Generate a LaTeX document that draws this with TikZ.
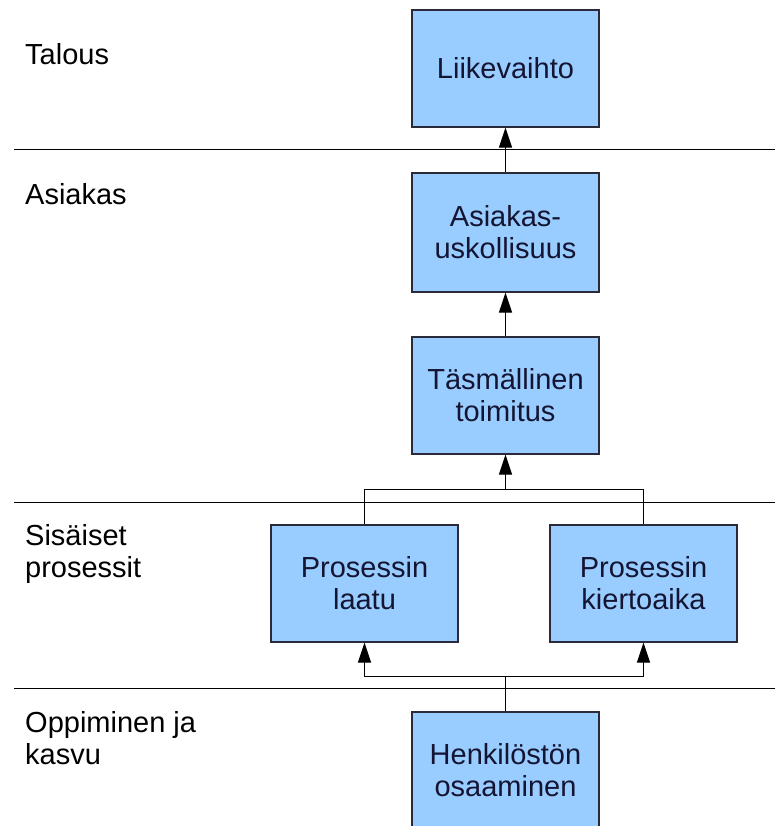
\documentclass[tikz,border=0pt]{standalone}
\usepackage{fontspec}
\setmainfont{Liberation Sans}
\usetikzlibrary{arrows.meta}
\definecolor{boxfill}{HTML}{99CCFF}
\definecolor{boxline}{HTML}{2A2A3A}
\definecolor{boxtext}{HTML}{141433}
\begin{document}
\begin{tikzpicture}[x=1pt,y=-1pt,
  box/.style={draw=boxline, line width=1.1pt, fill=boxfill,
    minimum width=187pt, minimum height=117pt, inner sep=0pt,
    align=center, text=boxtext, font=\fontsize{29}{32}\selectfont},
  lbl/.style={anchor=base west, align=left, inner sep=0pt,
    font=\fontsize{29}{32}\selectfont},
  link/.style={line width=1pt, draw=black},
  tip/.style={-{Triangle[length=20pt,width=13pt]}},
  divider/.style={line width=1pt, draw=black}]
\useasboundingbox (0,0) rectangle (775,826);

% perspective dividers
\draw[divider] (14,150) -- (775,150);
\draw[divider] (14,502) -- (775,502);
\draw[divider] (14,688) -- (775,688);

% perspective names (base anchor sits on the last line)
\node[lbl] (talous) at (25,65) {Talous};
\node[lbl] (asiakas) at (25,205) {Asiakas};
\node[lbl] (sisaiset) at (25,577) {Sisäiset\\prosessit};
\node[lbl] (oppiminen) at (25,764) {Oppiminen ja\\kasvu};

% goals
\node[box] (liike) at (505.5,68.5) {Liikevaihto};
\node[box, minimum height=119pt] (uskoll) at (505.5,232.5) {Asiakas-\\uskollisuus};
\node[box] (tasm) at (505.5,395.5) {Täsmällinen\\toimitus};
\node[box] (laatu) at (364.5,583.5) {Prosessin\\laatu};
\node[box] (kierto) at (643.5,583.5) {Prosessin\\kiertoaika};
\node[box] (henk) at (505.5,770.5) {Henkilöstön\\osaaminen};

% cause-and-effect links
\draw[link,tip] (uskoll.north) -- (liike.south);
\draw[link,tip] (tasm.north) -- (uskoll.south);

\coordinate (topjoin) at (505.5,489);
\draw[link] (laatu.north) -- (laatu.north |- topjoin) -- (kierto.north |- topjoin) -- (kierto.north);
\draw[link,tip] (topjoin) -- (tasm.south);

\coordinate (botjoin) at (505.5,676);
\draw[link] (henk.north) -- (botjoin);
\draw[link,tip] (botjoin) -| (laatu.south);
\draw[link,tip] (botjoin) -| (kierto.south);
\end{tikzpicture}
\end{document}
